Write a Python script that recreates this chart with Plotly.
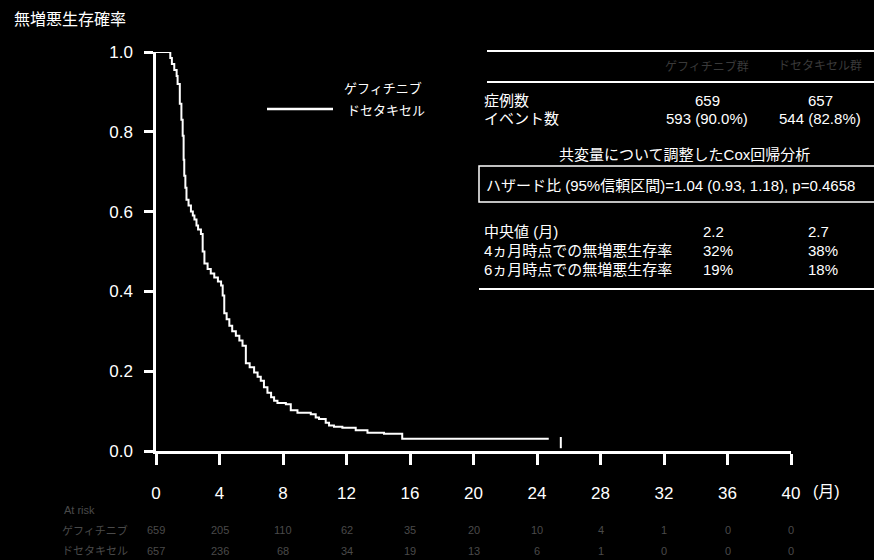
import plotly.graph_objects as go

# ---- data -------------------------------------------------------------
# Progression-free survival, docetaxel arm (Kaplan-Meier step points)
doc_months = [0, 0.9, 1.0, 1.15, 1.3, 1.36, 1.5, 1.6, 1.68, 1.74, 1.78, 1.85,
              1.92, 2.05, 2.2, 2.32, 2.42, 2.55, 2.65, 2.83, 2.94, 3.05, 3.25,
              3.45, 3.67, 3.9, 4.1, 4.2, 4.3, 4.45, 4.62, 4.8, 5.03, 5.25,
              5.45, 5.66, 5.9, 6.18, 6.4, 6.6, 6.8, 7.02, 7.25, 7.44, 7.65,
              8.18, 8.49, 8.91, 9.75, 10.06, 10.27, 10.69, 10.9, 11.21, 11.74,
              12.58, 13.32, 14.36, 15.51, 24.74]
doc_surv = [1.0, 0.985, 0.97, 0.955, 0.94, 0.92, 0.87, 0.83, 0.79, 0.73, 0.69,
            0.66, 0.63, 0.615, 0.60, 0.59, 0.58, 0.565, 0.555, 0.544, 0.50,
            0.47, 0.456, 0.445, 0.435, 0.425, 0.415, 0.39, 0.345, 0.33, 0.314,
            0.30, 0.289, 0.277, 0.264, 0.22, 0.21, 0.197, 0.186, 0.176, 0.16,
            0.146, 0.135, 0.126, 0.12, 0.117, 0.102, 0.096, 0.092, 0.084, 0.08,
            0.071, 0.064, 0.061, 0.058, 0.052, 0.046, 0.043, 0.031, 0.031]
censor_months = [25.5]
censor_surv = [0.021]

x_ticks = [0, 4, 8, 12, 16, 20, 24, 28, 32, 36, 40]
y_ticks = [0.0, 0.2, 0.4, 0.6, 0.8, 1.0]
y_tick_labels = ["0.0", "0.2", "0.4", "0.6", "0.8", "1.0"]

arm_names = ["ゲフィチニブ", "ドセタキセル"]
arm_headers = ["ゲフィチニブ群", "ドセタキセル群"]
n_patients = ["659", "657"]
n_events = ["593 (90.0%)", "544 (82.8%)"]
median_pfs = ["2.2", "2.7"]
pfs_4m = ["32%", "38%"]
pfs_6m = ["19%", "18%"]
cox_title = "共変量について調整したCox回帰分析"
hazard_text = "ハザード比 (95%信頼区間)=1.04 (0.93, 1.18), p=0.4658"
row_labels = ["症例数", "イベント数", "中央値 (月)",
              "4ヵ月時点での無増悪生存率", "6ヵ月時点での無増悪生存率"]

at_risk_gef = ["659", "205", "110", "62", "35", "20", "10", "4", "1", "0", "0"]
at_risk_doc = ["657", "236", "68", "34", "19", "13", "6", "1", "0", "0", "0"]

# ---- layout helpers ---------------------------------------------------
W, H = 874, 560
L, R, T, B = 156, 791, 52, 451
FONT = "Liberation Sans, Arial, Noto Sans CJK JP, sans-serif"
FONT_NARROW = "Liberation Sans Narrow, Arial Narrow, Liberation Sans, Noto Sans CJK JP, sans-serif"


def px(x):
    return (x - L) / (R - L)


def py(y):
    return (B - y) / (B - T)


def text(x, y, s, size=15, anchor="left", color="white", family=FONT):
    return dict(x=px(x), y=py(y), xref="paper", yref="paper", text=s,
                showarrow=False, xanchor=anchor, yanchor="middle",
                font=dict(size=size, color=color, family=family))


def hline(x0, x1, y, width=2, color="white"):
    return dict(type="line", xref="paper", yref="paper",
                x0=px(x0), x1=px(x1), y0=py(y), y1=py(y),
                line=dict(color=color, width=width))


fig = go.Figure()

fig.add_trace(go.Scatter(
    x=doc_months, y=doc_surv, mode="lines", name=arm_names[1],
    line=dict(color="white", width=2, shape="hv"),
    cliponaxis=False, showlegend=False))
fig.add_trace(go.Scatter(
    x=censor_months, y=censor_surv, mode="markers", name=arm_names[1],
    marker=dict(symbol="line-ns", size=8, line=dict(color="white", width=2)),
    cliponaxis=False, showlegend=False))

annotations = []
shapes = []

# y-axis title
annotations.append(text(12, 19, "無増悪生存確率", size=16))
# x-axis unit
annotations.append(text(811, 491, "(月)", size=16, family=FONT_NARROW))

# legend
annotations.append(text(342, 88, arm_names[0], size=13))
annotations.append(text(345, 110, arm_names[1], size=13))
shapes.append(hline(267, 333, 109, width=2.5))

# summary table
COL1, COL2 = 707, 820
shapes.append(hline(487, 880, 51))
shapes.append(hline(487, 880, 82))
annotations.append(text(COL1, 66, arm_headers[0], size=12, anchor="center", color="#3a3a3a"))
annotations.append(text(COL2, 66, arm_headers[1], size=12, anchor="center", color="#3a3a3a"))

annotations.append(text(482, 100, row_labels[0]))
annotations.append(text(COL1, 100, n_patients[0], anchor="center"))
annotations.append(text(COL2, 100, n_patients[1], anchor="center"))
annotations.append(text(482, 118, row_labels[1]))
annotations.append(text(COL1, 118, n_events[0], anchor="center"))
annotations.append(text(COL2, 118, n_events[1], anchor="center"))

annotations.append(text(684, 154, cox_title, anchor="center"))
shapes.append(dict(type="rect", xref="paper", yref="paper",
                   x0=px(479), x1=px(890), y0=py(202), y1=py(166),
                   line=dict(color="white", width=1.5)))
annotations.append(text(484, 185, hazard_text))

VAL1, VAL2 = 701, 806
for yy, lab, vals in [(231, row_labels[2], median_pfs),
                      (250, row_labels[3], pfs_4m),
                      (269, row_labels[4], pfs_6m)]:
    annotations.append(text(482, yy, lab))
    annotations.append(text(VAL1, yy, vals[0]))
    annotations.append(text(VAL2, yy, vals[1]))
shapes.append(hline(479, 880, 289))

# number at risk
FAINT = "#4a4a4a"
annotations.append(text(62, 510, "At risk", size=11, color=FAINT))
annotations.append(text(60, 530, arm_names[0], size=11, color=FAINT))
annotations.append(text(60, 551, arm_names[1], size=11, color=FAINT))
for i, m in enumerate(x_ticks):
    xp = L + (R - L) * m / 40
    annotations.append(text(xp, 530, at_risk_gef[i], size=11, anchor="center", color=FAINT))
    annotations.append(text(xp, 551, at_risk_doc[i], size=11, anchor="center", color=FAINT))

fig.update_layout(
    width=W, height=H,
    margin=dict(l=L, r=W - R, t=T, b=H - B),
    paper_bgcolor="black", plot_bgcolor="black",
    font=dict(family=FONT, color="white"),
    showlegend=False,
    annotations=annotations, shapes=shapes,
)
fig.update_xaxes(
    range=[0, 40], tickvals=x_ticks, ticktext=[str(v) for v in x_ticks],
    showgrid=False, zeroline=False, showline=True, linecolor="white", linewidth=2.5,
    ticks="outside", ticklen=11, tickwidth=2.5, tickcolor="white",
    tickfont=dict(size=17, color="white", family=FONT_NARROW),
    ticklabelstandoff=14,
)
fig.update_yaxes(
    range=[0, 1], tickvals=y_ticks, ticktext=y_tick_labels,
    showgrid=False, zeroline=False, showline=True, linecolor="white", linewidth=2.5,
    ticks="outside", ticklen=9, tickwidth=2.5, tickcolor="white",
    tickfont=dict(size=17, color="white", family=FONT),
    ticklabelstandoff=8,
)

fig.write_html("out.html")
